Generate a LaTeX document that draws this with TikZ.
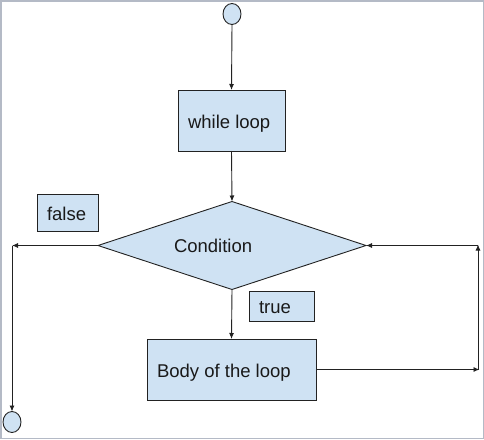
\documentclass[tikz,border=0pt]{standalone}
\usepackage{fontspec}
\setmainfont{Liberation Sans}
\usetikzlibrary{shapes.geometric,arrows.meta}
\definecolor{boxfill}{HTML}{CFE2F3}
\definecolor{edge}{HTML}{222222}
\definecolor{frame}{HTML}{B4BAC6}
\begin{document}
\begin{tikzpicture}[x=1pt,y=-1pt,
  every node/.style={outer sep=0pt},
  box/.style={draw=edge,fill=boxfill,line width=0.9pt,inner sep=0pt,rectangle},
  term/.style={draw=edge,fill=boxfill,line width=0.9pt,ellipse,inner sep=0pt,minimum width=18pt,minimum height=21pt},
  dia/.style={draw=edge,fill=boxfill,line width=0.9pt,diamond,inner sep=0pt,minimum width=268pt,minimum height=88pt},
  lbl/.style={anchor=base west,inner sep=0pt,font=\fontsize{18.5}{22}\selectfont,text=black!90},
  arr/.style={draw=edge,line width=0.9pt,-{Latex[length=6pt,width=5pt]}},
  ln/.style={draw=edge,line width=0.9pt}]
\useasboundingbox (0,0) rectangle (484,439);
\draw[frame,line width=1.5pt] (0.75,0.75) rectangle (483.25,438.25);
% nodes
\node[term] (start) at (232,14) {};
\node[box,minimum width=107pt,minimum height=61pt] (while) at (231.5,120.5) {};
\node[dia] (cond) at (232,245.5) {};
\node[box,minimum width=61pt,minimum height=37pt] (false) at (67.5,212.5) {};
\node[box,minimum width=65pt,minimum height=30pt] (true) at (281.5,306) {};
\node[box,minimum width=169pt,minimum height=61pt] (body) at (231.5,369.5) {};
\node[term] (end) at (12,422) {};
% labels
\node[lbl] (twhile) at (188,128) {while loop};
\node[lbl] (tcond) at (174,252) {Condition};
\node[lbl] (tfalse) at (47,220) {false};
\node[lbl] (ttrue) at (259,313) {true};
\node[lbl] (tbody) at (157,377) {Body of the loop};
% coordinates
\coordinate (L) at (12,245.5);
\coordinate (R1) at (479.5,369.5);
\coordinate (R2) at (478,244.5);
\coordinate (R3) at (478,245.5);
% connectors
\draw[arr] (start.south) -- (while.north);
\draw[arr] (while.south) -- (cond.north);
\draw[arr] (cond.south) -- (body.north);
\draw[arr] (cond.west) -- (L);
\draw[arr] (L) -- (end.north);
\draw[arr] (body.east) -- (R1);
\draw[arr] (R1 -| R2) -- (R2);
\draw[arr] (R3) -- (cond.east);
\end{tikzpicture}
\end{document}
